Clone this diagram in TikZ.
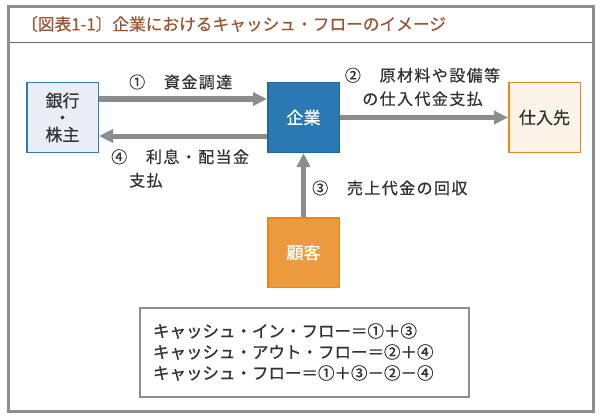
\documentclass[tikz,border=0pt]{standalone}
\usepackage{fontspec}
\usepackage{tikz}
\usetikzlibrary{arrows.meta,positioning}
\newfontfamily\jp[FakeBold=0.6]{Noto Sans CJK JP}
\newfontfamily\jpsp[LetterSpace=8.75,FakeBold=0.6]{Noto Sans CJK JP}
\newfontfamily\jpbf[FakeBold=1]{Noto Sans CJK JP}

\definecolor{framegray}{HTML}{8E8E8E}
\definecolor{rulegray}{HTML}{666666}
\definecolor{arrowgray}{HTML}{8C8C8C}
\definecolor{textgray}{HTML}{333333}
\definecolor{titlebrown}{HTML}{9B5530}
\definecolor{bankfill}{HTML}{E9EEF6}
\definecolor{bankline}{HTML}{2F7DB5}
\definecolor{corpfill}{HTML}{2A79B2}
\definecolor{corpline}{HTML}{1E6A9F}
\definecolor{supfill}{HTML}{FCF4E8}
\definecolor{supline}{HTML}{E8891E}
\definecolor{custfill}{HTML}{EB9B3E}
\definecolor{custline}{HTML}{E3891C}

\begin{document}
\begin{tikzpicture}[x=1pt,y=-1pt,>={Triangle[length=14pt,width=13pt]},
                    node distance=168pt]
  \tikzstyle{party}=[draw,line width=1.5pt,minimum width=71.5pt,
                     minimum height=69.5pt,inner sep=0pt,text=textgray,
                     font=\jp\fontsize{17}{17}\selectfont,align=center]
  \tikzstyle{flow}=[->,line width=5pt,draw=arrowgray]
  \tikzstyle{note}=[inner sep=0pt,text=textgray,
                    font=\jpsp\fontsize{16}{23.5}\selectfont]

  \useasboundingbox (0,0) rectangle (600,420);
  \draw[framegray,line width=3.5pt] (8.5,6.5) rectangle (593.5,411.5);
  \draw[rulegray,line width=1.2pt] (10,42.5) -- (591.75,42.5);
  \node[anchor=west,inner sep=0pt,text=titlebrown,
        font=\jp\fontsize{16.7}{17}\selectfont] (title) at (21,24)
        {〔図表1-1〕企業におけるキャッシュ・フローのイメージ};

  \node[party,fill=bankfill,draw=bankline] (bank) at (62.5,117.5) {銀行\\・\\株主};
  \node[party,fill=corpfill,draw=corpline,text=white] (corp) [right=168pt of bank] {企業};
  \node[party,fill=supfill,draw=supline] (sup) [right=168pt of corp] {仕入先};
  \node[party,fill=custfill,draw=custline,text=white] (cust) [below=64pt of corp] {顧客};

  \draw[flow] ([yshift=18.5pt]bank.east) -- ([yshift=18.5pt]corp.west);
  \draw[flow] ([yshift=-18.5pt]corp.west) -- ([yshift=-18.5pt]bank.east);
  \draw[flow] (corp.east) -- (sup.west);
  \draw[flow] (cust.north) -- (corp.south);

  \node[note,anchor=west] (fund) at (129,82) {①　資金調達};
  \node[note,align=center] (pay) at (422.5,87) {②　原材料や設備等\\の仕入代金支払};
  \node[note,anchor=west] (sales) at (312,188) {③　売上代金の回収};
  \node[note,align=left,anchor=west] (divi) at (111,168.5)
       {④　利息・配当金\\\hspace*{18pt}支払};

  \node[draw=framegray,line width=2pt,inner xsep=13pt,inner ysep=0pt,
        text width=303pt,minimum height=89pt,align=left,text=textgray,
        font=\jpbf\fontsize{16.5}{21}\selectfont] (sum) at (304.5,352)
       {キャッシュ・イン・フロー＝①＋③\\
        キャッシュ・アウト・フロー＝②＋④\\
        キャッシュ・フロー＝①＋③－②－④};
\end{tikzpicture}
\end{document}
